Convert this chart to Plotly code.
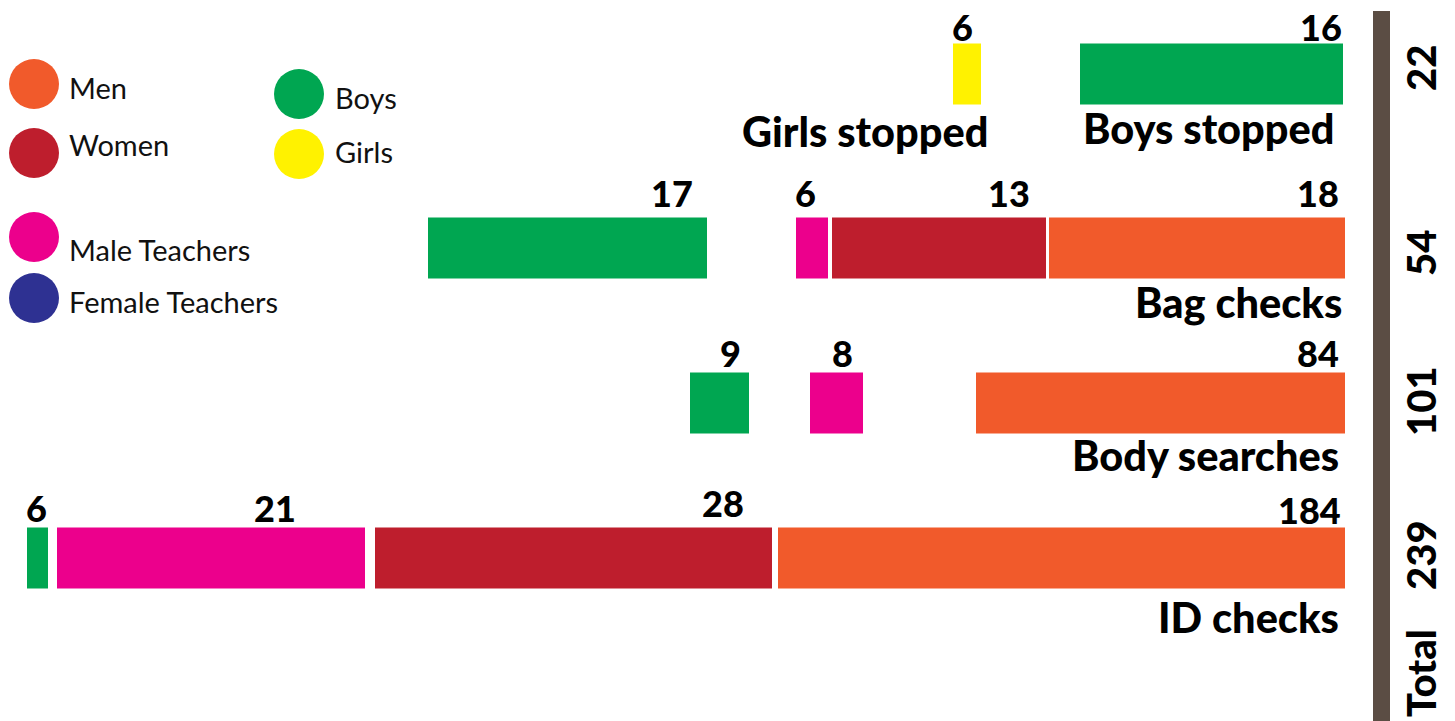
import plotly.graph_objects as go

# ---------------- data ----------------
groups = ["Men", "Women", "Male Teachers", "Female Teachers", "Boys", "Girls"]
group_colors = ["#f15a2b", "#be1e2d", "#ec008c", "#2e3192", "#00a651", "#fff200"]

rows = ["Stopped", "Bag checks", "Body searches", "ID checks"]
row_totals = [22, 54, 101, 239]

# segments (one bar each)
seg_row = [0, 0, 1, 1, 1, 1, 2, 2, 2, 3, 3, 3, 3]
seg_group = ["Girls", "Boys",
             "Boys", "Male Teachers", "Women", "Men",
             "Boys", "Male Teachers", "Men",
             "Boys", "Male Teachers", "Women", "Men"]
seg_value = [6, 16, 17, 6, 13, 18, 9, 8, 84, 6, 21, 28, 184]
# drawn extent of each bar along the (non-proportional) horizontal scale
seg_start = [953, 1080, 428, 796, 832, 1049, 690, 810, 976, 27, 57, 375, 778]
seg_end = [981, 1343, 707, 828, 1046, 1345, 749, 863, 1345, 48, 365, 772, 1345]

# ---------------- layout helpers ----------------
W, H = 1455, 721
row_center = [74, 248, 403, 558]
bar_h = 61
label_x = [975, 1344, 695, 818, 1032, 1341, 743, 855, 1341, 49, 298, 746, 1343]
label_dy = [-47, -47, -55, -55, -55, -55, -50, -50, -50, -50, -50, -55, -48]

cat_labels = ["Girls stopped", "Boys stopped", "Bag checks", "Body searches", "ID checks"]
cat_x = [990, 1336, 1344, 1341, 1341]
cat_y = [131, 128, 302, 455, 617]

total_y = [68, 253, 401, 555]

BOLD = dict(family="Lato", color="#000", weight=900)

fig = go.Figure()

for g, c in zip(groups, group_colors):
    idx = [i for i, s in enumerate(seg_group) if s == g]
    if not idx:
        continue
    fig.add_trace(go.Bar(
        orientation="h",
        y=[row_center[seg_row[i]] for i in idx],
        base=[seg_start[i] for i in idx],
        x=[seg_end[i] - seg_start[i] for i in idx],
        width=bar_h,
        marker=dict(color=c, line=dict(width=0)),
        name=g, showlegend=False, hoverinfo="skip",
    ))

# legend circles
leg_x = [34, 34, 34, 34, 299, 299]
leg_y = [84, 153, 237, 298, 94, 154]
leg_tx = [67, 67, 67, 67, 333, 333]
leg_ty = [87, 144, 249, 301, 97, 151]
fig.add_trace(go.Scatter(
    x=leg_x, y=leg_y, mode="markers",
    marker=dict(size=50, color=group_colors, line=dict(width=0)),
    showlegend=False, hoverinfo="skip",
))

ann = []
for g, tx, ty in zip(groups, leg_tx, leg_ty):
    ann.append(dict(x=tx, y=ty, text=g, showarrow=False, xanchor="left", yanchor="middle",
                    font=dict(family="Lato", size=29, color="#111")))

for i, v in enumerate(seg_value):
    top = row_center[seg_row[i]]
    ann.append(dict(x=label_x[i], y=top + label_dy[i], text=str(v), showarrow=False,
                    xanchor="right", yanchor="middle",
                    font=dict(size=36, **BOLD)))

for t, x, y in zip(cat_labels, cat_x, cat_y):
    ann.append(dict(x=x, y=y, text=t, showarrow=False, xanchor="right", yanchor="middle",
                    font=dict(size=41.5, **BOLD)))

for t, y in zip(row_totals, total_y):
    ann.append(dict(x=1421, y=y, text=str(t), showarrow=False, textangle=-90,
                    xanchor="center", yanchor="middle",
                    font=dict(size=40, **BOLD)))
ann.append(dict(x=1421, y=673, text="Total", showarrow=False, textangle=-90,
                xanchor="center", yanchor="middle",
                font=dict(size=40, **BOLD)))

shapes = [dict(type="rect", x0=1373, x1=1390, y0=11, y1=H + 5, fillcolor="#5b4d44",
               line=dict(width=0), layer="below")]

fig.update_layout(
    width=W, height=H,
    margin=dict(l=0, r=0, t=0, b=0),
    paper_bgcolor="white", plot_bgcolor="white",
    barmode="overlay",
    xaxis=dict(range=[0, W], visible=False, fixedrange=True),
    yaxis=dict(range=[H, 0], visible=False, fixedrange=True),
    annotations=ann, shapes=shapes,
)

fig.write_html("out.html", config={"displayModeBar": False},
               post_script="document.body.style.margin='0';document.body.style.overflow='hidden';")
